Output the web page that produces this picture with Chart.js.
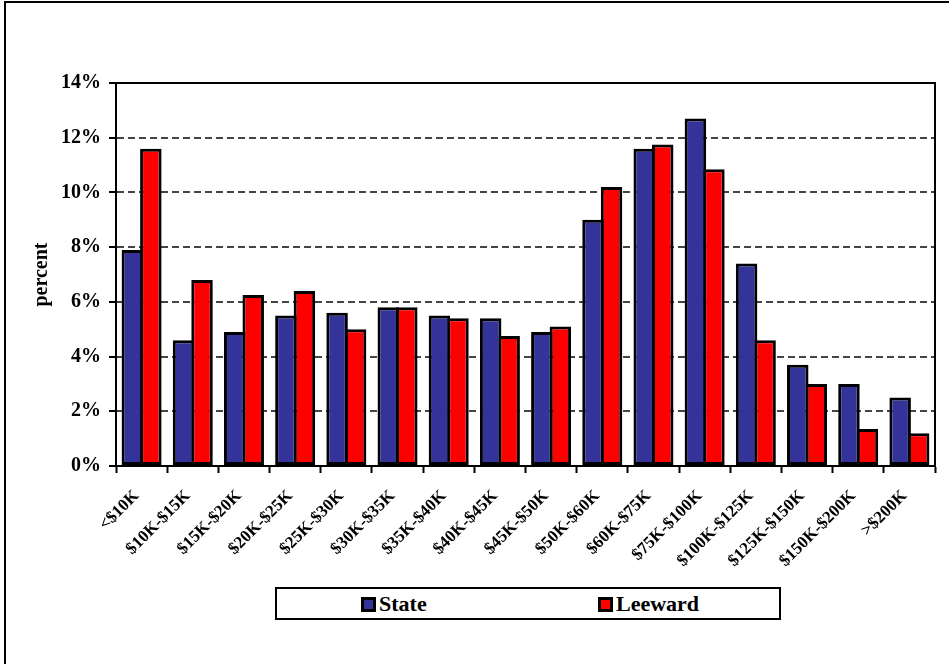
<!DOCTYPE html>
<html>
<head>
<meta charset="utf-8">
<script src="https://cdn.jsdelivr.net/npm/chart.js@4"></script>
<style>
  html, body { margin: 0; padding: 0; background: #fff; overflow: hidden; }
  #wrap { position: relative; width: 949px; height: 664px; overflow: hidden; }
  #frame { position: absolute; left: 4px; top: 1px; width: 1000px; height: 700px;
           border-left: 2px solid #000; border-top: 2px solid #000; }
  canvas { position: absolute; left: 0; top: 0; }
  #legend { position: absolute; left: 275px; top: 587px; width: 506px; height: 33px;
            box-sizing: border-box; border: 2px solid #000; background: #fff;
            font: bold 22px "Liberation Serif", "Times New Roman", serif; color: #000; }
  #legend .sw { position: absolute; top: 8px; width: 15px; height: 15px; box-sizing: border-box; border: 3px solid #000; }
  #legend .lb { position: absolute; top: 2px; line-height: 26px; }
</style>
</head>
<body>
<div id="wrap">
  <div id="frame"></div>
  <canvas id="chart" width="949" height="664"></canvas>
  <div id="legend"></div>
</div>
<script>
const incomeBands = ['<$10K', '$10K-$15K', '$15K-$20K', '$20K-$25K', '$25K-$30K', '$30K-$35K',
  '$35K-$40K', '$40K-$45K', '$45K-$50K', '$50K-$60K', '$60K-$75K', '$75K-$100K',
  '$100K-$125K', '$125K-$150K', '$150K-$200K', '>$200K'];
const stateShare = [7.9, 4.6, 4.9, 5.5, 5.6, 5.8, 5.5, 5.4, 4.9, 9.0, 11.6, 12.7, 7.4, 3.7, 3.0, 2.5];
const leewardShare = [11.6, 6.8, 6.25, 6.4, 5.0, 5.8, 5.4, 4.75, 5.1, 10.2, 11.75, 10.85, 4.6, 3.0, 1.35, 1.2];
const seriesNames = ['State', 'Leeward'];
const seriesColors = ['#333399', '#ff0000'];

const serif = '"Liberation Serif", "Times New Roman", serif';

// plot frame: top and right edges of the chart area
const framePlugin = {
  id: 'frame',
  afterDatasetsDraw(chart) {
    const { ctx, chartArea: a } = chart;
    ctx.save();
    ctx.strokeStyle = '#000';
    ctx.lineWidth = 2;
    ctx.beginPath();
    ctx.moveTo(a.left, a.top);
    ctx.lineTo(a.right, a.top);
    ctx.lineTo(a.right, a.bottom);
    ctx.stroke();
    ctx.restore();
  }
};

const chart = new Chart(document.getElementById('chart'), {
  type: 'bar',
  data: {
    labels: incomeBands,
    datasets: [stateShare, leewardShare].map((d, i) => ({
      label: seriesNames[i],
      data: d,
      backgroundColor: seriesColors[i],
      borderColor: '#000',
      borderWidth: 3,
      borderSkipped: false,
      // bars overlap by one border so each pair shares a single outline
      categoryPercentage: 0.723,
      barPercentage: 1.162
    }))
  },
  options: {
    responsive: false,
    animation: false,
    devicePixelRatio: 1,
    layout: { padding: { left: 0, top: 83, right: 14, bottom: 0 } },
    plugins: { legend: { display: false }, tooltip: { enabled: false } },
    scales: {
      x: {
        offset: true,
        grid: { offset: true, drawOnChartArea: false, drawTicks: true, tickLength: 7,
                tickColor: '#000', tickWidth: 2, color: '#000' },
        border: { display: true, color: '#000', width: 2 },
        ticks: { minRotation: 45, maxRotation: 45, autoSkip: false, padding: 13, labelOffset: -5,
                 color: '#000', font: { family: serif, size: 17, weight: 'bold' } },
        afterFit(scale) { scale.height = 198; }
      },
      y: {
        min: 0, max: 14,
        grid: {
          color: ctx => (ctx.tick && (ctx.tick.value === 0 || ctx.tick.value === 14)) ? 'rgba(0,0,0,0)' : '#444',
          lineWidth: 2,
          tickLength: 7, tickColor: '#000', tickWidth: 2, tickBorderDash: []
        },
        border: { display: true, color: '#000', width: 2, dash: [7, 4] },
        ticks: { stepSize: 2, padding: 8, color: '#000',
                 font: { family: serif, size: 20, weight: 'bold' },
                 callback: v => v + '%' },
        title: { display: true, text: 'percent', color: '#000', padding: { top: 30, bottom: 0 },
                 font: { family: serif, size: 20, weight: 'bold' } },
        afterFit(scale) { scale.width = 116; }
      }
    }
  },
  plugins: [framePlugin]
});

// legend box below the plot
const legend = document.getElementById('legend');
const swatchX = [84, 321];
seriesNames.forEach((name, i) => {
  const sw = document.createElement('div');
  sw.className = 'sw';
  sw.style.left = swatchX[i] + 'px';
  sw.style.background = seriesColors[i];
  const lb = document.createElement('div');
  lb.className = 'lb';
  lb.style.left = (swatchX[i] + 18) + 'px';
  lb.textContent = name;
  legend.appendChild(sw);
  legend.appendChild(lb);
});
</script>
</body>
</html>
